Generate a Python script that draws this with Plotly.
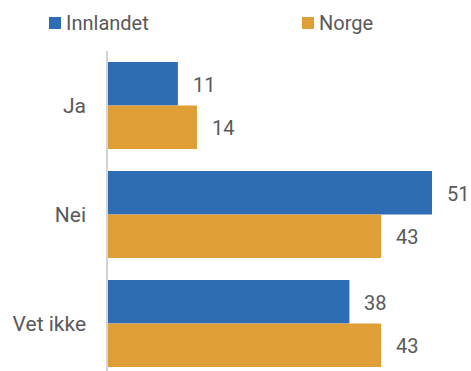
import plotly.graph_objects as go

categories = ["Ja", "Nei", "Vet ikke"]
innlandet = [11, 51, 38]
norge = [14, 43, 43]
series_names = ["Innlandet", "Norge"]

BLUE = "#2E6DB4"
ORANGE = "#E09E36"
TEXT = "#595959"
FONT = "Roboto"

W, H = 471, 371
ML, MR, MT, MB = 108, 0, 51, 0
plot_w = W - ML - MR
plot_h = H - MT - MB

fig = go.Figure()
for name, vals, col in [(series_names[0], innlandet, BLUE), (series_names[1], norge, ORANGE)]:
    fig.add_trace(go.Bar(
        y=categories, x=vals, name=name, orientation="h",
        marker=dict(color=col, line=dict(width=0)),
        showlegend=False,
    ))

# value labels just right of each bar end
annotations = []
for i, cat in enumerate(categories):
    for vals, off in [(innlandet, -0.2), (norge, 0.2)]:
        annotations.append(dict(
            x=vals[i], y=i + off, xref="x", yref="y",
            text=str(vals[i]), showarrow=False,
            xanchor="left", yanchor="middle", xshift=13, yshift=-1,
            font=dict(family=FONT, size=20, color=TEXT),
        ))

# legend drawn as squares with labels above the plot
def px_x(px):
    return (px - ML) / plot_w

def px_y(py):
    return (H - MB - py) / plot_h

shapes = []
legend_items = [(series_names[0], BLUE, 49), (series_names[1], ORANGE, 302)]
for name, col, x0 in legend_items:
    shapes.append(dict(
        type="rect", xref="paper", yref="paper",
        x0=px_x(x0), x1=px_x(x0 + 12), y0=px_y(29), y1=px_y(17),
        fillcolor=col, line=dict(width=0),
    ))
    annotations.append(dict(
        x=px_x(x0 + 15), y=px_y(23), xref="paper", yref="paper",
        text=name, showarrow=False, xanchor="left", yanchor="middle",
        font=dict(family=FONT, size=20, color=TEXT),
    ))

fig.update_layout(
    width=W, height=H,
    margin=dict(l=ML, r=MR, t=MT, b=MB, pad=0),
    paper_bgcolor="white", plot_bgcolor="white",
    barmode="group", bargap=0.2, bargroupgap=0,
    annotations=annotations, shapes=shapes,
    font=dict(family=FONT, size=21, color=TEXT),
    xaxis=dict(range=[0, 57.14], visible=False, showgrid=False, zeroline=False),
    yaxis=dict(
        range=[2.436, -0.5], showgrid=False, zeroline=False,
        showline=True, linecolor="#D4D4D4", linewidth=1.5,
        ticks="", ticklabelstandoff=16,
        tickfont=dict(family=FONT, size=21, color=TEXT),
    ),
)

fig.write_html("out.html")
